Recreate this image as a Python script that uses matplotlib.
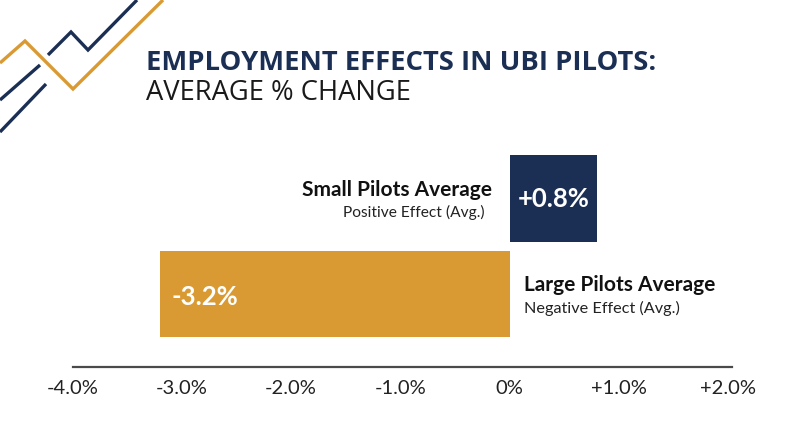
import matplotlib
matplotlib.use("Agg")
import matplotlib.pyplot as plt
from matplotlib.lines import Line2D

# ---- data ----
categories = ["Large Pilots Average", "Small Pilots Average"]
subtitles = ["Negative Effect (Avg.)", "Positive Effect (Avg.)"]
values = [-3.2, 0.8]
value_labels = ["-3.2%", "+0.8%"]
tick_values = [-4.0, -3.0, -2.0, -1.0, 0.0, 1.0, 2.0]
tick_labels = ["-4.0%", "-3.0%", "-2.0%", "-1.0%", "0%", "+1.0%", "+2.0%"]

NAVY = "#1b2f54"
GOLD = "#d99a33"
bar_colors = [GOLD, NAVY]

W, H = 800, 447
fig = plt.figure(figsize=(8, 4.47), dpi=100)
fig.patch.set_facecolor("white")

def fx(px):
    return px / W

def fy(py):
    return 1 - py / H

# decorative lines (top-left)
deco = [
    ([0, 25, 73, 163], [63, 41, 89, 0], GOLD),
    ([48, 71, 88, 137], [55, 32, 50, 0], NAVY),
    ([0, 40], [100, 65], NAVY),
    ([0, 46], [132, 84], NAVY),
]
for xs, ys, c in deco:
    fig.add_artist(Line2D([fx(x) for x in xs], [fy(y) for y in ys],
                          transform=fig.transFigure, color=c, lw=2.4,
                          solid_capstyle="butt", solid_joinstyle="miter"))

# titles
fig.text(fx(146), fy(63), "EMPLOYMENT EFFECTS IN UBI PILOTS:", fontsize=19.7,
         fontweight="bold", color=NAVY, family="Open Sans", va="center", ha="left")
fig.text(fx(146), fy(93), "AVERAGE % CHANGE", fontsize=19.7, color="#1a1a1a",
         family="Open Sans", va="center", ha="left")

# axes
left_px, right_px = 72.5, 731.6
top_px, bot_px = 150, 367
ax = fig.add_axes([fx(left_px), fy(bot_px), (right_px - left_px) / W, (bot_px - top_px) / H])
ax.set_xlim(-4.0, 2.03)
ax.set_ylim(-0.764, 1.508)
ypos = [0, 1]
ax.barh(ypos, values, height=0.91, color=bar_colors, edgecolor="none")

for s in ["top", "right", "left"]:
    ax.spines[s].set_visible(False)
ax.spines["bottom"].set_color("#4a4a4a")
ax.spines["bottom"].set_linewidth(1.6)
ax.set_yticks([])
ax.set_xticks(tick_values)
ax.set_xticklabels(tick_labels, fontsize=14.5, family="Lato", color="#222222")
ax.tick_params(axis="x", length=0, pad=9)
ax.set_facecolor("none")

# labels
# Large (negative)
ax.annotate(value_labels[0], xy=(values[0], ypos[0]), xytext=(12, -3),
            textcoords="offset pixels", ha="left", va="center", fontsize=18.5,
            fontweight="bold", color="white", family="Lato")
ax.annotate(categories[0], xy=(0, ypos[0]), xytext=(14, 9),
            textcoords="offset pixels", ha="left", va="center", fontsize=15,
            fontweight="bold", color="#111111", family="Lato")
ax.annotate(subtitles[0], xy=(0, ypos[0]), xytext=(14, -14),
            textcoords="offset pixels", ha="left", va="center", fontsize=11.7,
            color="#222222", family="Lato")
# Small (positive)
ax.annotate(value_labels[1], xy=(values[1] / 2, ypos[1]), xytext=(0, 0),
            textcoords="offset pixels", ha="center", va="center", fontsize=18.5,
            fontweight="bold", color="white", family="Lato")
ax.annotate(categories[1], xy=(0, ypos[1]), xytext=(-18, 9),
            textcoords="offset pixels", ha="right", va="center", fontsize=15,
            fontweight="bold", color="#111111", family="Lato")
ax.annotate(subtitles[1], xy=(0, ypos[1]), xytext=(-25, -14),
            textcoords="offset pixels", ha="right", va="center", fontsize=11.2,
            color="#222222", family="Lato")

fig.savefig("out.png", dpi=100)
